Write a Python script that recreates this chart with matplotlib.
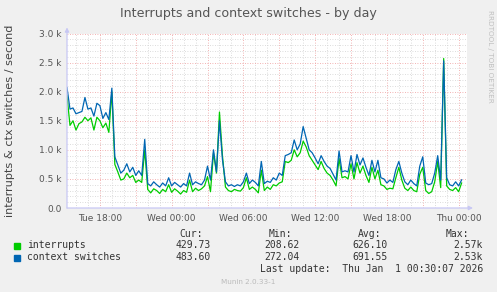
import matplotlib
matplotlib.use("Agg")
import matplotlib.pyplot as plt
import matplotlib.dates as mdates
from matplotlib.ticker import MultipleLocator, FixedLocator, FixedFormatter, FuncFormatter
import pandas as pd

# ---------------- data (15-minute samples) ----------------
start_time = "2025-12-30 15:15"
x_start = "2025-12-30 15:15"
x_end = "2026-01-01 00:42"

interrupts = [
    1930, 1420, 1500, 1340, 1450, 1480, 1560, 1500, 1550, 1340,
    1560, 1500, 1380, 1460, 1300, 2000, 750, 620, 480, 500,
    600, 520, 560, 440, 480, 440, 1000, 320, 260, 330,
    300, 250, 320, 280, 400, 270, 330, 290, 240, 300,
    270, 480, 280, 340, 300, 330, 380, 540, 280, 950,
    600, 1650, 900, 360, 300, 280, 320, 300, 290, 350,
    520, 320, 360, 320, 260, 650, 300, 360, 320, 400,
    380, 430, 450, 800, 780, 820, 1000, 880, 950, 1150,
    1050, 900, 820, 740, 660, 800, 680, 600, 560, 480,
    380, 850, 520, 540, 500, 760, 500, 780, 600, 720,
    560, 440, 700, 500, 650, 400, 380, 320, 340, 330,
    520, 700, 480, 340, 300, 360, 300, 280, 580, 700,
    300, 250, 280, 450, 800, 350, 2570, 380, 320, 300,
    350, 280, 429.73,
]
context_switches = [
    2070, 1700, 1720, 1620, 1640, 1660, 1900, 1700, 1720, 1580,
    1800, 1760, 1540, 1640, 1520, 2060, 880, 740, 600, 650,
    760, 620, 700, 560, 640, 560, 1180, 420, 380, 450,
    400, 360, 430, 380, 520, 380, 440, 400, 360, 420,
    380, 600, 400, 450, 420, 400, 480, 720, 480, 1000,
    620, 1500, 830, 450, 380, 400, 370, 400, 380, 450,
    600, 420, 480, 440, 380, 800, 420, 460, 440, 520,
    480, 600, 560, 900, 920, 950, 1170, 1000, 1100, 1400,
    1200, 1000, 950, 860, 760, 900, 800, 720, 680, 580,
    480, 980, 620, 640, 620, 900, 620, 920, 740, 860,
    700, 560, 820, 620, 820, 520, 500, 430, 480, 440,
    660, 800, 600, 450, 400, 480, 420, 380, 720, 880,
    430, 400, 420, 600, 900, 480, 2530, 520, 400, 380,
    450, 380, 483.60,
]

series_names = ["interrupts", "context switches"]
series_colors = ["#00CC00", "#0066B3"]
cur_vals = ["429.73", "483.60"]
min_vals = ["208.62", "272.04"]
avg_vals = ["626.10", "691.55"]
max_vals = ["2.57k", "2.53k"]

ytick_vals = [0, 500, 1000, 1500, 2000, 2500, 3000]
ytick_labels = ["0.0", "0.5 k", "1.0 k", "1.5 k", "2.0 k", "2.5 k", "3.0 k"]

title = "Interrupts and context switches - by day"
ylabel = "interrupts & ctx switches / second"
last_update = "Last update:  Thu Jan  1 00:30:07 2026"
footer = "Munin 2.0.33-1"
side_text = "RRDTOOL / TOBI OETIKER"

# ---------------- figure ----------------
W, H = 497, 292
fig = plt.figure(figsize=(W / 100, H / 100), dpi=100, facecolor="#F0F0F0")

def fx(x):
    return x / W

def fy(y):
    return 1 - y / H

ax_l, ax_r, ax_t, ax_b = 67, 467, 33.5, 208
ax = fig.add_axes([fx(ax_l), fy(ax_b), fx(ax_r - ax_l), (ax_b - ax_t) / H])
ax.set_facecolor("white")

times = pd.date_range(start_time, periods=len(interrupts), freq="15min")
ax.plot(times, interrupts, color=series_colors[0], lw=0.9, zorder=3)
ax.plot(times, context_switches, color=series_colors[1], lw=0.9, zorder=4)

ax.set_xlim(pd.Timestamp(x_start), pd.Timestamp(x_end))
ax.set_ylim(0, 3000)

ax.xaxis.set_major_locator(mdates.HourLocator(byhour=range(0, 24, 3)))
ax.xaxis.set_minor_locator(mdates.HourLocator())

def fmt_x(v, pos):
    d = mdates.num2date(v)
    return d.strftime("%a %H:%M") if d.hour % 6 == 0 else ""

ax.xaxis.set_major_formatter(FuncFormatter(fmt_x))
ax.yaxis.set_major_locator(FixedLocator(ytick_vals))
ax.yaxis.set_major_formatter(FixedFormatter(ytick_labels))
ax.yaxis.set_minor_locator(MultipleLocator(100))

ax.grid(which="minor", color="#D0D0D0", linestyle=(0, (1, 2)), lw=0.6)
ax.grid(which="major", color="#EE9A9A", linestyle=(0, (1, 2)), lw=0.6)
ax.set_axisbelow(True)

for s in ax.spines.values():
    s.set_visible(False)
ax.tick_params(which="both", length=0, labelsize=6.5, colors="#555555")
ax.tick_params(axis="x", pad=4)
ax.tick_params(axis="y", pad=4)

axis_col = "#C8C8F4"
ax.annotate("", xy=(1.015, 0), xytext=(0, 0), xycoords="axes fraction",
            arrowprops=dict(arrowstyle="-|>", color=axis_col, lw=0.9,
                            mutation_scale=6, shrinkA=0, shrinkB=0), zorder=5)
ax.annotate("", xy=(0, 1.035), xytext=(0, 0), xycoords="axes fraction",
            arrowprops=dict(arrowstyle="-|>", color=axis_col, lw=0.9,
                            mutation_scale=6, shrinkA=0, shrinkB=0), zorder=5)

# ---------------- texts ----------------
fig.text(fx(248), fy(13), title, ha="center", va="center", fontsize=9.1, color="#555555")
fig.text(fx(10), fy(121), ylabel, ha="center", va="center", rotation=90,
         fontsize=8.1, color="#444444")
fig.text(fx(490), fy(56), side_text, ha="center", va="center", rotation=270,
         fontsize=5.2, color="#C0C0C0")

mono = "DejaVu Sans Mono"
tc = "#333333"
fs = 7
fig.text(fx(203), fy(234), "Cur:", ha="right", va="center", family=mono, fontsize=fs, color=tc)
fig.text(fx(292), fy(234), "Min:", ha="right", va="center", family=mono, fontsize=fs, color=tc)
fig.text(fx(381), fy(234), "Avg:", ha="right", va="center", family=mono, fontsize=fs, color=tc)
fig.text(fx(469), fy(234), "Max:", ha="right", va="center", family=mono, fontsize=fs, color=tc)

rows_y = [245.5, 257.5]
for i, name in enumerate(series_names):
    y = rows_y[i]
    fig.patches.append(plt.Rectangle((fx(14), fy(y + 3)), fx(6), 6 / H,
                                     transform=fig.transFigure, color=series_colors[i],
                                     figure=fig))
    fig.text(fx(27), fy(y), name, ha="left", va="center", family=mono, fontsize=fs, color=tc)
    fig.text(fx(211), fy(y), cur_vals[i], ha="right", va="center", family=mono, fontsize=fs, color=tc)
    fig.text(fx(300), fy(y), min_vals[i], ha="right", va="center", family=mono, fontsize=fs, color=tc)
    fig.text(fx(388), fy(y), avg_vals[i], ha="right", va="center", family=mono, fontsize=fs, color=tc)
    fig.text(fx(483), fy(y), max_vals[i], ha="right", va="center", family=mono, fontsize=fs, color=tc)

fig.text(fx(483), fy(269.5), last_update, ha="right", va="center", family=mono, fontsize=fs, color=tc)
fig.text(fx(248), fy(281.5), footer, ha="center", va="center", fontsize=5.2, color="#BBBBBB")

fig.savefig("out.png", dpi=100, facecolor=fig.get_facecolor())
